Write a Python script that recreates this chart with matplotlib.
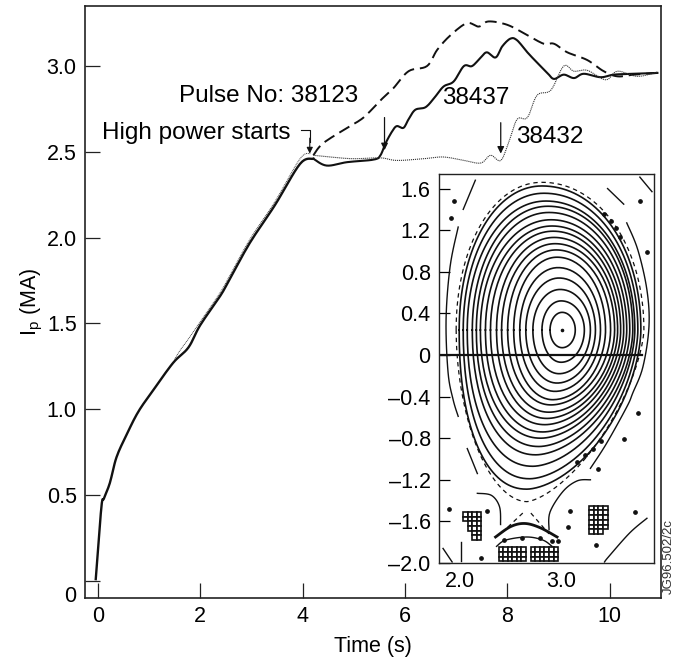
import numpy as np
import matplotlib
matplotlib.use('Agg')
import matplotlib.pyplot as plt
from matplotlib.patches import Rectangle
from matplotlib.transforms import ScaledTranslation

plt.rcParams['font.family'] = ['Liberation Sans', 'DejaVu Sans']
plt.rcParams['mathtext.default'] = 'regular'

# main traces
ramp_t = [-0.04, 0.07, 0.12, 0.235, 0.365, 0.56, 0.79, 1.08, 1.47, 1.77, 2.0, 2.39, 2.58, 2.97, 3.46, 3.95, 4.21]
ramp_ip = [0.01, 0.43, 0.48, 0.57, 0.72, 0.85, 0.985, 1.11, 1.27, 1.36, 1.49, 1.66, 1.76, 1.97, 2.19, 2.43, 2.46]

dotted_ramp_t = [1.5, 1.6, 1.77, 2.0, 2.39, 2.58, 2.97, 3.46, 3.95, 4.15]
dotted_ramp_ip = [1.29, 1.34, 1.41, 1.51, 1.68, 1.78, 1.99, 2.21, 2.46, 2.49]

p38437_t = [4.21, 4.47, 4.87, 5.39, 5.52, 5.62, 5.75, 5.84, 5.97, 6.07, 6.2, 6.4, 6.56, 6.75, 6.95, 7.15, 7.31, 7.48, 7.6, 7.77, 7.9, 8.06, 8.19, 8.39, 8.58, 8.78, 8.91, 9.1, 9.3, 9.49, 9.82, 10.08, 10.47, 10.93]
p38437_ip = [2.46, 2.42, 2.44, 2.455, 2.48, 2.55, 2.62, 2.65, 2.64, 2.69, 2.745, 2.76, 2.81, 2.88, 2.91, 3.0, 3.0, 3.05, 3.08, 3.05, 3.115, 3.16, 3.15, 3.08, 3.02, 2.96, 2.925, 2.95, 2.93, 2.955, 2.935, 2.95, 2.955, 2.96]

p38123_t = [4.21, 4.4, 4.87, 5.19, 5.52, 5.77, 6.07, 6.43, 6.63, 6.89, 7.21, 7.44, 7.63, 8.0, 8.39, 8.71, 8.91, 9.17, 9.56, 9.88, 10.15, 10.47, 10.93]
p38123_ip = [2.48, 2.55, 2.64, 2.70, 2.80, 2.87, 2.97, 3.0, 3.095, 3.18, 3.25, 3.23, 3.26, 3.24, 3.18, 3.13, 3.13, 3.08, 3.035, 2.97, 2.94, 2.95, 2.96]

p38432_t = [4.21, 4.54, 4.99, 5.52, 5.84, 6.36, 6.75, 7.15, 7.48, 7.67, 7.87, 8.03, 8.19, 8.39, 8.58, 8.85, 9.1, 9.3, 9.56, 9.92, 10.15, 10.54, 10.93]
p38432_ip = [2.48, 2.47, 2.46, 2.465, 2.45, 2.46, 2.47, 2.45, 2.435, 2.48, 2.45, 2.56, 2.69, 2.70, 2.83, 2.86, 3.0, 2.97, 2.975, 2.92, 2.97, 2.94, 2.965]

# flux surfaces, innermost first: crossings on midplane and on the vertical
surf_left = [2.89, 2.81, 2.72, 2.65, 2.59, 2.53, 2.47, 2.41, 2.36, 2.30, 2.25, 2.20, 2.16, 2.12, 2.07, 2.03, 1.99]
surf_right = [3.14, 3.23, 3.29, 3.34, 3.39, 3.44, 3.49, 3.53, 3.56, 3.59, 3.62, 3.65, 3.68, 3.71, 3.73, 3.76, 3.79]
surf_top = [0.41, 0.52, 0.63, 0.74, 0.84, 0.94, 1.01, 1.07, 1.13, 1.19, 1.24, 1.30, 1.37, 1.43, 1.48, 1.555, 1.625]
surf_bottom = [0.07, -0.07, -0.18, -0.27, -0.35, -0.43, -0.48, -0.55, -0.61, -0.67, -0.74, -0.80, -0.88, -0.96, -1.07, -1.19, -1.29]
surf_rtop = [3.01, 3.0, 2.99, 2.98, 2.97, 2.96, 2.95, 2.94, 2.93, 2.92, 2.91, 2.90, 2.88, 2.87, 2.85, 2.83, 2.81]
surf_rbot = [3.01, 3.0, 2.98, 2.96, 2.94, 2.92, 2.90, 2.88, 2.86, 2.84, 2.82, 2.80, 2.78, 2.75, 2.72, 2.69, 2.66]
axis_r, axis_z = 3.01, 0.24

# open field line pieces outside the plasma
pieces = [
    ([2.15, 2.03], [1.68, 1.40]),
    ([1.98, 1.90, 1.86, 1.88, 1.93, 1.98], [1.23, 0.85, 0.34, -0.17, -0.43, -0.59]),
    ([2.07, 2.17], [-0.90, -1.14]),
    ([3.46, 3.62], [1.60, 1.45]),
    ([3.78, 3.90], [1.71, 1.57]),
    ([3.65, 3.76, 3.85, 3.87, 3.81, 3.71, 3.65, 3.45, 3.29], [1.27, 1.01, 0.625, 0.27, -0.115, -0.365, -0.5, -0.85, -1.09]),
    ([2.17, 2.31, 2.39, 2.40], [-1.33, -1.35, -1.46, -1.63]),
    ([3.29, 3.16, 3.02, 2.89, 2.88], [-1.2, -1.21, -1.31, -1.51, -1.68]),
    ([2.36, 2.45, 2.66, 2.82, 2.91], [-1.84, -1.78, -1.75, -1.78, -1.84]),
    ([3.85, 3.68, 3.47, 3.43], [-1.57, -1.71, -1.94, -1.99]),
    ([1.83, 1.92], [-1.86, -1.99]),
    ([2.01, 2.01], [-1.80, -1.98]),
]
thick_arc_r = [2.35, 2.50, 2.64, 2.79, 2.96]
thick_arc_z = [-1.75, -1.65, -1.62, -1.66, -1.75]
leg_left_r = [2.62, 2.40]
leg_left_z = [-1.52, -1.72]
leg_right_r = [2.70, 2.88]
leg_right_z = [-1.52, -1.72]

dot_r = [1.94, 1.91, 3.78, 3.85, 3.76, 3.62, 3.37, 1.89, 2.27, 3.09, 3.73, 3.07, 3.35, 2.21,
         2.43, 2.61, 2.79, 2.91, 2.97, 3.42, 3.49, 3.54, 3.58, 3.39, 3.32, 3.24, 3.16]
dot_z = [1.48, 1.32, 1.48, 0.99, -0.555, -0.81, -1.10, -1.48, -1.50, -1.50, -1.51, -1.65, -1.83, -1.95,
         -1.78, -1.76, -1.76, -1.79, -1.79, 1.36, 1.29, 1.22, 1.13, -0.83, -0.90, -0.96, -1.03]

# coil blocks: left edge, top edge, squares skipped and squares drawn in each row
coil_left = (2.03, -1.51, [0, 0, 1, 1, 2, 2], [4, 4, 3, 3, 2, 2])
coil_right = (3.28, -1.45, [0, 0, 0, 0, 0, 0], [4, 4, 4, 4, 4, 3])
coil_bot1 = (2.38, -1.85, [0, 0, 0], [6, 6, 6])
coil_bot2 = (2.70, -1.85, [0, 0, 0], [6, 6, 6])

y_ticks = [0, 0.5, 1.0, 1.5, 2.0, 2.5, 3.0]
x_ticks = [0, 2, 4, 6, 8, 10]
inset_y_ticks = [-2.0, -1.6, -1.2, -0.8, -0.4, 0, 0.4, 0.8, 1.2, 1.6]
inset_y_labels = ['\u20132.0', '\u20131.6', '\u20131.2', '\u20130.8', '\u20130.4', '0', '0.4', '0.8', '1.2', '1.6']


def smooth(x, y, steps=8):
    # Catmull-Rom through the read points, so the traces do not look angular
    x = np.array(x, float)
    y = np.array(y, float)
    px = np.concatenate([[x[0]], x, [x[-1]]])
    py = np.concatenate([[y[0]], y, [y[-1]]])
    out_x, out_y = [], []
    for i in range(1, len(px) - 2):
        s = np.linspace(0, 1, steps, endpoint=False)
        for a, out in ((px, out_x), (py, out_y)):
            out.extend(0.5 * (2 * a[i] + (a[i + 1] - a[i - 1]) * s
                              + (2 * a[i - 1] - 5 * a[i] + 4 * a[i + 1] - a[i + 2]) * s ** 2
                              + (3 * a[i] - a[i - 1] - 3 * a[i + 1] + a[i + 2]) * s ** 3))
    out_x.append(x[-1])
    out_y.append(y[-1])
    return out_x, out_y


def half_curve(r_end, r_mid, z_mid, z_end, n):
    u = np.linspace(0, np.pi / 2, 40)
    r = r_mid + (r_end - r_mid) * np.cos(u) ** (2 / n)
    z = z_mid + (z_end - z_mid) * np.sin(u) ** (2 / n)
    return r, z


def surface(left, right, top, bottom, rtop, rbot, n_top, n_left, n_right):
    # closed curve going left -> top -> right -> bottom -> left
    r1, z1 = half_curve(left, rtop, axis_z, top, n_top)
    r2, z2 = half_curve(right, rtop, axis_z, top, n_top)
    r3, z3 = half_curve(right, rbot, axis_z, bottom, n_right)
    r4, z4 = half_curve(left, rbot, axis_z, bottom, n_left)
    r = np.concatenate([r1, r2[::-1], r3, r4[::-1]])
    z = np.concatenate([z1, z2[::-1], z3, z4[::-1]])
    return r, z


def draw_coil(ax, coil):
    r0, z0, skips, rows = coil
    for i, count in enumerate(rows):
        for j in range(skips[i], skips[i] + count):
            ax.add_patch(Rectangle((r0 + j * 0.045, z0 - (i + 1) * 0.045), 0.045, 0.045,
                                   facecolor='white', edgecolor='#111111', lw=1.2))


fig = plt.figure(figsize=(6.76, 6.64), dpi=100)
W, H = 676, 664
ax = fig.add_axes([85 / W, 1 - 598 / H, 576 / W, 592 / H])
ax.set_xlim(-0.25, 11.0)
ax.set_ylim(-0.1, 3.35)

ax.plot(*smooth(ramp_t, ramp_ip), color='#111111', lw=1.7)
ax.plot(*smooth(dotted_ramp_t, dotted_ramp_ip), color='#444444', lw=0.7, ls=(0, (1, 0.8)))
ax.plot(*smooth(p38437_t, p38437_ip), color='#111111', lw=1.5)
ax.plot(*smooth(p38123_t, p38123_ip), color='#111111', lw=1.4, ls=(0, (6, 3)))
ax.plot(*smooth(p38432_t, p38432_ip), color='#333333', lw=0.8, ls=(0, (1, 0.8)))

ax.set_xticks(x_ticks)
ax.set_yticks(y_ticks)
ax.set_yticklabels(['0', '0.5', '1.0', '1.5', '2.0', '2.5', '3.0'])
ax.tick_params(direction='in', length=11, width=0.9, labelsize=15.5, pad=6, color='#222222')
ax.yaxis.get_ticklabels()[0].set_transform(ax.yaxis.get_ticklabels()[0].get_transform()
                                           + ScaledTranslation(0, -13 / 100, fig.dpi_scale_trans))
ax.set_xlabel('Time (s)', fontsize=15.5, labelpad=6)
ax.set_ylabel('I$_{p}$ (MA)', fontsize=15.5, labelpad=1)
for s in ax.spines.values():
    s.set_linewidth(1.2)
    s.set_color('#222222')

fig.text(269 / W, 1 - 96 / H, 'Pulse No: 38123', fontsize=17.5, ha='center', va='center')
fig.text(196 / W, 1 - 133 / H, 'High power starts', fontsize=17.5, ha='center', va='center')
fig.text(476 / W, 1 - 98 / H, '38437', fontsize=17.5, ha='center', va='center')
fig.text(550 / W, 1 - 137 / H, '38432', fontsize=17.5, ha='center', va='center')
fig.text(669 / W, 1 - 557 / H, 'JG96.502/2c', fontsize=9.5, rotation=90, ha='center', va='center', color='#333333')

# event arrows
ax.plot([3.96, 4.14, 4.14], [2.63, 2.63, 2.56], color='#111111', lw=0.8)
ax.annotate('', xy=(4.14, 2.49), xytext=(4.14, 2.58),
            arrowprops=dict(arrowstyle='-|>', color='#111111', lw=0.8, mutation_scale=9, shrinkA=0, shrinkB=0))
ax.annotate('', xy=(5.6, 2.51), xytext=(5.6, 2.70),
            arrowprops=dict(arrowstyle='-|>', color='#111111', lw=0.9, mutation_scale=10, shrinkA=0, shrinkB=0))
ax.annotate('', xy=(7.87, 2.49), xytext=(7.87, 2.67),
            arrowprops=dict(arrowstyle='-|>', color='#111111', lw=0.9, mutation_scale=10, shrinkA=0, shrinkB=0))

# inset with the equilibrium
ins = fig.add_axes([439 / W, 1 - 563 / H, 215 / W, 389 / H])
ins.set_xlim(1.79, 3.92)
ins.set_ylim(-2.0, 1.74)

count = len(surf_left)
for i in range(count):
    frac = i / (count - 1)
    r, z = surface(surf_left[i], surf_right[i], surf_top[i], surf_bottom[i], surf_rtop[i], surf_rbot[i],
                   2 + 0.05 * frac, 2 + 0.2 * frac, 2 - 0.3 * frac)
    ins.plot(r, z, color='#111111', lw=1.2)

# separatrix, dashed
r, z = surface(1.96, 3.82, 1.66, -1.41, 2.81, 2.66, 2.05, 1.9, 1.5)
ins.plot(r, z, color='#111111', lw=0.9, ls=(0, (3.5, 3)))
ins.plot(leg_left_r, leg_left_z, color='#111111', lw=0.9, ls=(0, (3.5, 3)))
ins.plot(leg_right_r, leg_right_z, color='#111111', lw=0.9, ls=(0, (3.5, 3)))

for pr, pz in pieces:
    ins.plot(*smooth(pr, pz), color='#111111', lw=1.0)
ins.plot(*smooth(thick_arc_r, thick_arc_z), color='#111111', lw=2.0)
ins.plot([1.79, 3.8], [0, 0], color='#111111', lw=1.6)
ins.plot(dot_r, dot_z, ls='none', marker='o', ms=2.4, color='#111111')
ins.plot([axis_r], [axis_z], ls='none', marker='o', ms=1.6, color='#111111')

for coil in [coil_left, coil_right, coil_bot1, coil_bot2]:
    draw_coil(ins, coil)

ins.set_xticks([2.0, 3.0])
ins.set_xticklabels(['2.0', '3.0'])
ins.set_yticks(inset_y_ticks)
ins.set_yticklabels(inset_y_labels)
ins.tick_params(axis='y', direction='in', length=8, width=0.9, labelsize=15.5, pad=6)
ins.tick_params(axis='x', length=0, labelsize=15.5, pad=6)
for s in ins.spines.values():
    s.set_linewidth(1.0)
    s.set_color('#222222')

fig.savefig('out.png', dpi=100)
